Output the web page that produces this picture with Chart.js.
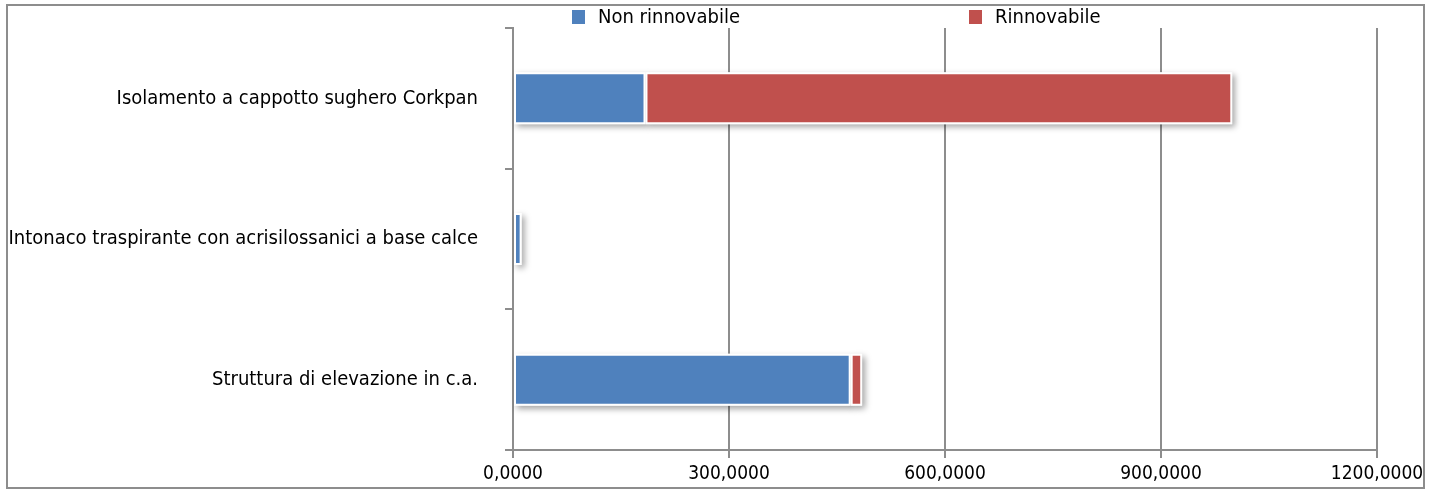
<!DOCTYPE html>
<html>
<head>
<meta charset="utf-8">
<script src="https://cdn.jsdelivr.net/npm/chart.js@4"></script>
<style>
  html, body { margin: 0; padding: 0; background: #fff; }
  #wrap { width: 1442px; height: 490px; }
</style>
</head>
<body>
<div id="wrap"><canvas id="chart" width="1442" height="490"></canvas></div>
<script>
// data
var categories = [
    'Isolamento a cappotto sughero Corkpan',
    'Intonaco traspirante con acrisilossanici a base calce',
    'Struttura di elevazione in c.a.'
];
var seriesNames = ['Non rinnovabile', 'Rinnovabile'];
var nonRinnovabile = [184, 12, 469];
var rinnovabile = [815, 0, 16];
var xTicks = [0, 300, 600, 900, 1200];

var colors = ['#4F81BD', '#C0504D'];
var lineGray = '#8d8d8d';
var fontFamily = '"DejaVu Sans Condensed", "DejaVu Sans", sans-serif';

// frame around the whole chart
var framePlugin = {
    id: 'frame',
    beforeDraw: function (chart) {
        var ctx = chart.ctx;
        ctx.save();
        ctx.fillStyle = '#fff';
        ctx.fillRect(0, 0, chart.width, chart.height);
        ctx.strokeStyle = lineGray;
        ctx.lineWidth = 2;
        ctx.strokeRect(7, 5, 1417, 483);
        ctx.restore();
    }
};

// soft drop shadow under every bar
var shadowPlugin = {
    id: 'barShadow',
    beforeDatasetsDraw: function (chart) {
        var ctx = chart.ctx;
        ctx.save();
        ctx.shadowColor = 'rgba(0,0,0,0.35)';
        ctx.shadowBlur = 6;
        ctx.shadowOffsetX = 3;
        ctx.shadowOffsetY = 3;
        ctx.fillStyle = '#fff';
        chart.data.datasets.forEach(function (ds, i) {
            chart.getDatasetMeta(i).data.forEach(function (bar) {
                var p = bar.getProps(['x', 'y', 'base', 'height'], true);
                var w = p.x - p.base;
                if (w <= 0) return;
                ctx.fillRect(p.base, p.y - p.height / 2, w, p.height);
            });
        });
        ctx.restore();
    }
};

// legend spread out like the original
var legendPlugin = {
    id: 'spreadLegend',
    afterDraw: function (chart) {
        var ctx = chart.ctx;
        var boxX = [572, 969];
        ctx.save();
        ctx.font = '20px ' + fontFamily;
        ctx.textBaseline = 'middle';
        chart.data.datasets.forEach(function (ds, i) {
            ctx.fillStyle = ds.backgroundColor;
            ctx.fillRect(boxX[i], 10, 13, 14);
            ctx.fillStyle = '#000';
            ctx.fillText(ds.label, boxX[i] + 26, 18);
        });
        ctx.restore();
    }
};

var ctx = document.getElementById('chart').getContext('2d');
var chart = new Chart(ctx, {
    type: 'bar',
    data: {
        labels: categories,
        datasets: [{
            label: seriesNames[0],
            data: nonRinnovabile,
            backgroundColor: colors[0],
            borderColor: '#fff',
            borderWidth: 2,
            borderSkipped: false,
            barPercentage: 0.37,
            categoryPercentage: 1
        }, {
            label: seriesNames[1],
            data: rinnovabile,
            backgroundColor: colors[1],
            borderColor: '#fff',
            borderWidth: 2,
            borderSkipped: false,
            barPercentage: 0.37,
            categoryPercentage: 1
        }]
    },
    options: {
        indexAxis: 'y',
        responsive: false,
        animation: false,
        layout: {
            padding: { top: 28, right: 65, left: 0, bottom: 0 }
        },
        scales: {
            x: {
                stacked: true,
                min: 0,
                max: 1200,
                afterBuildTicks: function (axis) {
                    axis.ticks = xTicks.map(function (v) { return { value: v }; });
                },
                afterFit: function (axis) { axis.height = 40; },
                grid: { color: lineGray, lineWidth: 2, tickLength: 8 },
                border: { color: lineGray, width: 2 },
                ticks: {
                    color: '#000',
                    padding: 5,
                    maxRotation: 0,
                    font: { family: fontFamily, size: 19 },
                    callback: function (v) { return v.toFixed(4).replace('.', ','); }
                }
            },
            y: {
                stacked: true,
                afterFit: function (axis) {
                    axis.width = 513;
                    axis.paddingTop = 0;
                    axis.paddingBottom = 0;
                },
                grid: { drawOnChartArea: false, offset: true, color: lineGray, lineWidth: 2, tickLength: 8 },
                border: { color: lineGray, width: 2 },
                ticks: {
                    color: '#000',
                    padding: 27,
                    font: { family: fontFamily, size: 20 }
                }
            }
        },
        plugins: {
            legend: { display: false },
            tooltip: { enabled: false }
        }
    },
    plugins: [framePlugin, shadowPlugin, legendPlugin]
});
</script>
</body>
</html>
